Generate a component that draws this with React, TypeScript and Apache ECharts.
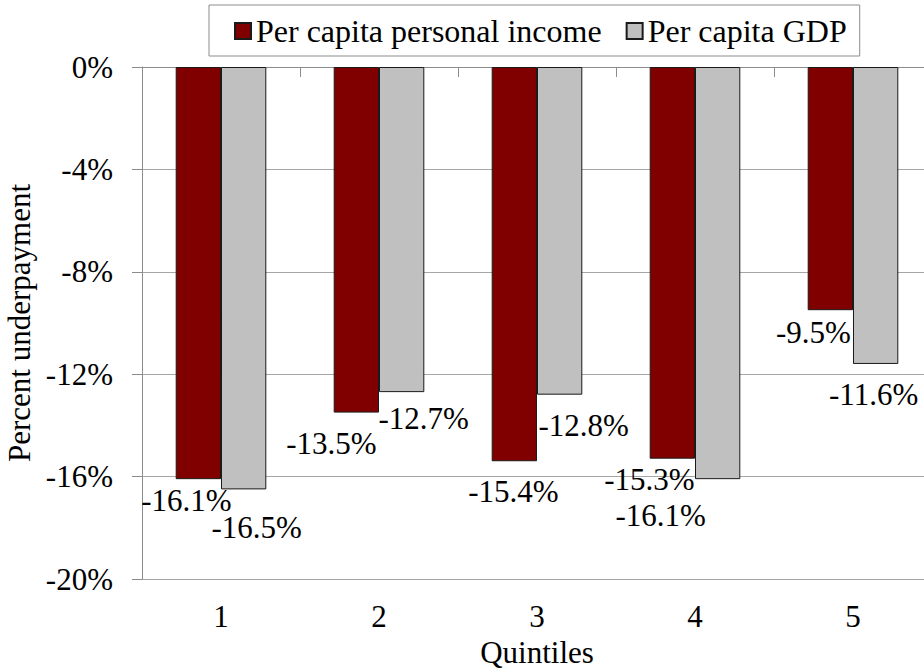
import React, { useEffect, useRef } from "react";
import * as echarts from "echarts";

const categories = ["1", "2", "3", "4", "5"];
const incomeValues = [-16.1, -13.5, -15.4, -15.3, -9.5];
const gdpValues = [-16.5, -12.7, -12.8, -16.1, -11.6];
const seriesNames = ["Per capita personal income", "Per capita GDP"];
const yMin = -20;
const yMax = 0;
const yInterval = 4;

// label placement tweaks (pixels), kept apart from the values
const incomeLabelOffsets = [[-12, 6], [-25, 16], [-1, 15], [-23, 6], [-17, 7]];
const gdpLabelOffsets = [[13, 23], [22, 11], [24, 16], [-57, 21], [-2, 16]];

const FONT = "Liberation Serif";
const FS = 31;

export default function App() {
  const ref = useRef<HTMLDivElement>(null);
  useEffect(() => {
    if (!ref.current) return;
    const chart = echarts.init(ref.current, undefined, { renderer: "svg" });
    const mk = (vals: number[], offs: number[][]) =>
      vals.map((v, i) => ({
        value: v,
        label: { offset: offs[i] },
      }));
    const labelBase = {
      show: true,
      position: "bottom",
      distance: 0,
      color: "#000",
      fontFamily: FONT,
      fontSize: FS,
      lineHeight: 30,
      formatter: (p: any) => `${p.value}%`,
    };
    chart.setOption({
      animation: false,
      textStyle: { fontFamily: FONT },
      legend: {
        left: 209,
        top: 5,
        padding: [10, 13, 9, 25],
        itemWidth: 16,
        itemHeight: 16,
        itemGap: 24,
        borderColor: "#8c8c8c",
        borderWidth: 1,
        icon: "rect",
        textStyle: { fontFamily: FONT, fontSize: 32, color: "#000" },
        data: seriesNames,
      },
      grid: { left: 142, top: 67, width: 790, height: 512, outerBoundsMode: "none", containLabel: false },
      xAxis: [
        {
          type: "category",
          data: categories,
          position: "top",
          axisLine: { show: true, onZero: false, lineStyle: { color: "#8c8c8c", width: 1 } },
          axisTick: { show: true, inside: true, length: 10, lineStyle: { color: "#8c8c8c" } },
          axisLabel: { show: false },
          splitLine: { show: false },
        },
        {
          type: "category",
          data: categories,
          position: "bottom",
          axisLine: { show: false, onZero: false },
          axisTick: { show: false },
          axisLabel: { margin: 22, color: "#000", fontFamily: FONT, fontSize: FS },
          name: "Quintiles",
          nameLocation: "middle",
          nameGap: 56,
          nameTextStyle: { color: "#000", fontFamily: FONT, fontSize: FS, lineHeight: 30 },
        },
      ],
      yAxis: {
        type: "value",
        min: yMin,
        max: yMax,
        interval: yInterval,
        axisLine: { show: true, lineStyle: { color: "#8c8c8c", width: 1 } },
        axisTick: { show: true, length: 10, lineStyle: { color: "#8c8c8c" } },
        axisLabel: {
          margin: 29,
          color: "#000",
          fontFamily: FONT,
          fontSize: FS,
          formatter: (v: number) => `${v}%`,
        },
        splitLine: { show: true, lineStyle: { color: "#a6a6a6", width: 1 } },
        name: "Percent underpayment",
        nameLocation: "middle",
        nameGap: 104,
        nameTextStyle: { color: "#000", fontFamily: FONT, fontSize: FS },
      },
      series: [
        {
          name: seriesNames[0],
          type: "bar",
          xAxisIndex: 0,
          barWidth: 45.3,
          barGap: "0%",
          itemStyle: { color: "#800000", borderColor: "#1a1a1a", borderWidth: 1 },
          label: labelBase,
          data: mk(incomeValues, incomeLabelOffsets),
        },
        {
          name: seriesNames[1],
          type: "bar",
          xAxisIndex: 0,
          barWidth: 45.3,
          barGap: "0%",
          itemStyle: { color: "#c0c0c0", borderColor: "#1a1a1a", borderWidth: 1 },
          label: labelBase,
          data: mk(gdpValues, gdpLabelOffsets),
        },
      ],
    });
    return () => chart.dispose();
  }, []);
  return (
    <div
      ref={ref}
      style={{ position: "fixed", left: 0, top: 0, width: 924, height: 669, background: "#fff" }}
    />
  );
}
